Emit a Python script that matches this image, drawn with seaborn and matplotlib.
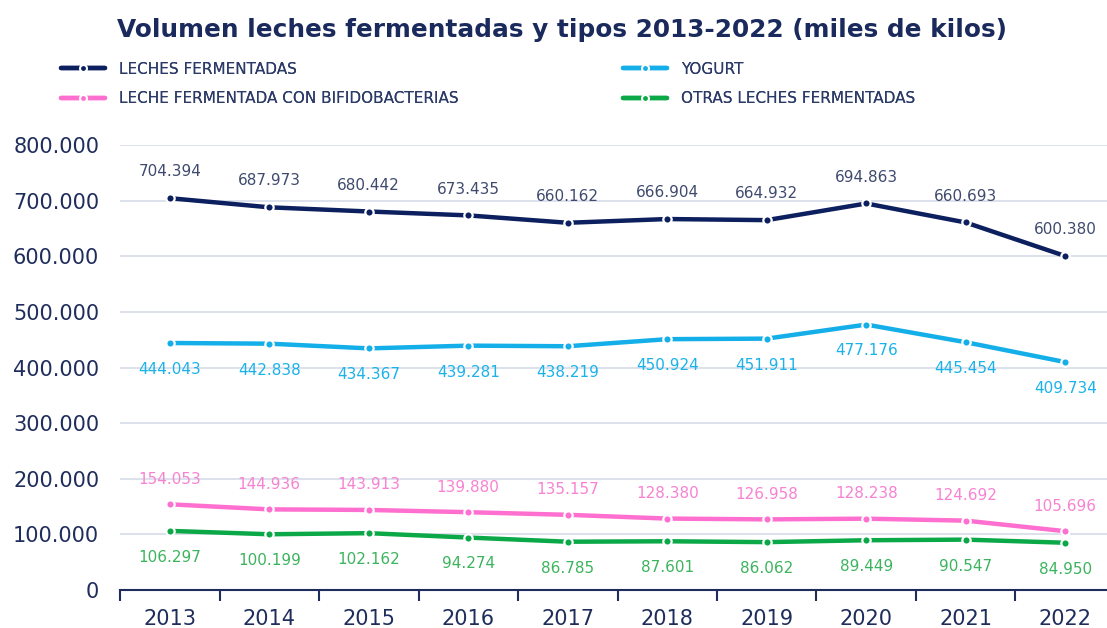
import pandas as pd
import seaborn as sns
import matplotlib.pyplot as plt
from matplotlib.lines import Line2D

years = ['2013', '2014', '2015', '2016', '2017', '2018', '2019', '2020', '2021', '2022']
leches = [704394, 687973, 680442, 673435, 660162, 666904, 664932, 694863, 660693, 600380]
yogurt = [444043, 442838, 434367, 439281, 438219, 450924, 451911, 477176, 445454, 409734]
bifido = [154053, 144936, 143913, 139880, 135157, 128380, 126958, 128238, 124692, 105696]
otras = [106297, 100199, 102162, 94274, 86785, 87601, 86062, 89449, 90547, 84950]

names = ['LECHES FERMENTADAS', 'YOGURT', 'LECHE FERMENTADA CON BIFIDOBACTERIAS',
         'OTRAS LECHES FERMENTADAS']
series = [leches, yogurt, bifido, otras]
line_colors = ['#0c1f5e', '#14aee8', '#ff6fcf', '#0aa846']
label_colors = ['#3f4a6e', '#1ab2ea', '#f882d2', '#3cb45e']
label_offset = [19, -19, 18, -19]  # puntos: arriba / abajo

sns.set_style('white')
plt.rcParams['font.family'] = ['DejaVu Sans']

fig = plt.figure(figsize=(11.07, 6.28), dpi=100)
ax = fig.add_axes([120 / 1107, 38 / 628, 995 / 1107, 445 / 628])

x = list(range(len(years)))
for name, vals, lc, tc, off in zip(names, series, line_colors, label_colors, label_offset):
    df = pd.DataFrame({'x': x, 'v': vals})
    sns.lineplot(data=df, x='x', y='v', ax=ax, color=lc, linewidth=3.2,
                 marker='o', markersize=6, markeredgecolor='white',
                 markeredgewidth=1.6, zorder=3)
    for xi, v in zip(x, vals):
        txt = f'{v:,}'.replace(',', '.')
        ax.annotate(txt, (xi, v), xytext=(0, off), textcoords='offset points',
                    ha='center', va='center', fontsize=11, color=tc)

ax.set_xlim(-0.5, 9.5)
ax.set_ylim(0, 800000)
ax.set_yticks(range(0, 800001, 100000))
ax.set_yticklabels(['0'] + [f'{v:,}'.replace(',', '.') for v in range(100000, 800001, 100000)])
ax.set_xticks(x)
ax.set_xticklabels(years)
ax.set_xticks([i - 0.5 for i in range(11)], minor=True)
ax.tick_params(axis='x', which='major', bottom=False, length=0, pad=14, labelsize=15,
               labelcolor='#1f2d5c')
ax.tick_params(axis='x', which='minor', bottom=True, length=8, width=1.5, color='#1f2d5c',
               direction='out')
ax.tick_params(axis='y', length=0, pad=15, labelsize=15, labelcolor='#1f2d5c')
ax.grid(axis='y', color='#d6dbe7', linewidth=1.2)
ax.set_axisbelow(True)
for s in ['top', 'right', 'left']:
    ax.spines[s].set_visible(False)
ax.spines['bottom'].set_color('#1f2d5c')
ax.spines['bottom'].set_linewidth(1.5)
ax.set_xlabel('')
ax.set_ylabel('')

fig.text(562 / 1107, 1 - 30 / 628, 'Volumen leches fermentadas y tipos 2013-2022 (miles de kilos)',
         ha='center', va='center', fontsize=17.8, fontweight='bold', color='#1b2a5c')


def make_handle(c):
    return Line2D([0], [0], color=c, linewidth=3.2, marker='o', markersize=5,
                  markeredgecolor='white', markeredgewidth=1.5)


for idx, x0 in [([0, 2], 47), ([1, 3], 609)]:
    leg = fig.legend([make_handle(line_colors[i]) for i in idx], [names[i] for i in idx],
                     loc='upper left', bbox_to_anchor=(x0 / 1107, 1 - 48 / 628),
                     frameon=False, fontsize=11, labelcolor='#2b3a67', handlelength=2.9,
                     handletextpad=0.9, labelspacing=0.95)
    fig.add_artist(leg)

fig.savefig('out.png', dpi=100)
